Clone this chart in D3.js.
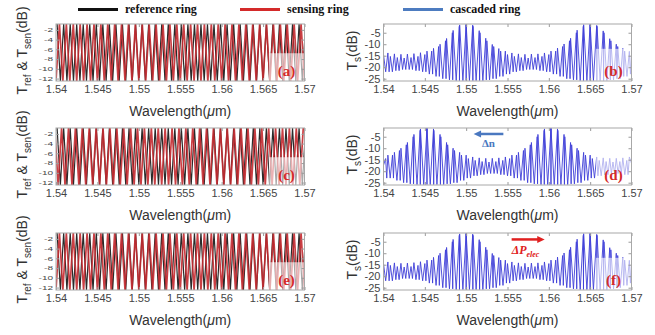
<!DOCTYPE html>
<html lang="en">
<head>
<meta charset="UTF-8" />
<title>Vernier cascaded ring spectra</title>
<style>
    body { margin: 0; background: #fff; }
    svg { display: block; }
    .tick text { font: 11px "Liberation Sans", Arial, sans-serif; fill: #444; }
    .tick line { stroke: #9a9a9a; }
    .frame { fill: none; stroke: #a8a8a8; stroke-width: 1px; }
    .axisLabel { font: 14px "Liberation Sans", Arial, sans-serif; fill: #333; }
    .legendText { font: bold 12px "Liberation Serif", "DejaVu Serif", serif; fill: #111; }
    .panelTag { font: bold 15px "Liberation Serif", "DejaVu Serif", serif; fill: #d42a2a; }
    .ringRef { fill: none; stroke: #2a2a2a; stroke-width: 1.2px; }
    .ringSen { fill: none; stroke: #c42a30; stroke-width: 1.7px; stroke-opacity: 0.9; }
    .casc { fill: none; stroke: #4040d8; stroke-width: 0.9px; }
    .tagBox { fill: #fff; opacity: 0.6; }
</style>
</head>
<body>
<svg></svg>
<script src="https://cdnjs.cloudflare.com/ajax/libs/d3/7.9.0/d3.min.js"></script>
<script>
const wlTicks = [1.54, 1.545, 1.55, 1.555, 1.56, 1.565, 1.57];
const ringTicks = [-2, -4, -6, -8, -10, -12];
const cascTicks = [-5, -10, -15, -20, -25];

// resonance wavelengths (um)
const refRes = [1.54053, 1.54132, 1.54211, 1.54289, 1.54368, 1.54447, 1.54526, 1.54605, 1.54684, 1.54763,
    1.54842, 1.54921, 1.55000, 1.55079, 1.55158, 1.55237, 1.55316, 1.55395, 1.55474, 1.55553,
    1.55632, 1.55711, 1.55789, 1.55868, 1.55947, 1.56026, 1.56105, 1.56184, 1.56263, 1.56342,
    1.56421, 1.56500, 1.56579, 1.56658, 1.56737, 1.56816, 1.56895, 1.56974];
const senResA = [1.54000, 1.54083, 1.54167, 1.54250, 1.54333, 1.54417, 1.54500, 1.54583, 1.54667, 1.54750,
    1.54833, 1.54917, 1.55000, 1.55083, 1.55167, 1.55250, 1.55333, 1.55417, 1.55500, 1.55583,
    1.55667, 1.55750, 1.55833, 1.55917, 1.56000, 1.56083, 1.56167, 1.56250, 1.56333, 1.56417,
    1.56500, 1.56583, 1.56667, 1.56750, 1.56833, 1.56917, 1.57000];
const senResC = [1.54026, 1.54109, 1.54193, 1.54276, 1.54359, 1.54443, 1.54526, 1.54609, 1.54693, 1.54776,
    1.54859, 1.54943, 1.55026, 1.55109, 1.55193, 1.55276, 1.55359, 1.55443, 1.55526, 1.55609,
    1.55693, 1.55776, 1.55859, 1.55943, 1.56026, 1.56109, 1.56193, 1.56276, 1.56359, 1.56443,
    1.56526, 1.56609, 1.56693, 1.56776, 1.56859, 1.56943];

// single ring through port (dB)
const ringTop = -0.8;
const ringDip = -12.5;

// cascaded output (dB): peak at every reference line, at every sensing line, floor after each reference line
const refPeakB = [-13.8, -14.2, -14.4, -14.3, -14.1, -13.7, -13.0, -11.8, -10.0, -7.5,
    -4.0, -1.6, -1.2, -1.7, -4.1, -7.4, -10.1, -11.9, -13.0, -13.8,
    -14.2, -14.4, -14.3, -14.2, -13.8, -13.0, -11.7, -9.9, -7.4, -3.9,
    -1.5, -1.2, -1.8, -4.2, -7.6, -10.0, -11.8, -13.1];
const senPeakB = [-14.5, -15.3, -15.8, -16.0, -15.8, -15.3, -14.5, -13.0, -11.0, -8.5,
    -5.0, -2.2, -1.6, -2.2, -5.0, -8.5, -11.0, -13.0, -14.5, -15.3,
    -15.8, -16.0, -15.8, -15.3, -14.5, -13.0, -11.0, -8.5, -5.0, -2.2,
    -1.6, -2.2, -5.0, -8.5, -11.0, -13.0, -14.5];
const floorB = [-22, -21.5, -21, -21, -21.5, -22, -23, -24, -25, -25.5,
    -25.8, -25.8, -25.8, -25.8, -25.8, -25.5, -25, -24, -23, -22,
    -21.5, -21, -21, -21.5, -22, -23, -24, -25, -25.5, -25.8,
    -25.8, -25.8, -25.8, -25.8, -25.5, -25, -24, -23];
const refPeakD = [-13.0, -11.8, -10.0, -7.5, -4.0, -1.6, -1.2, -1.6, -4.0, -7.5,
    -10.0, -11.8, -13.0, -13.8, -14.2, -14.4, -14.4, -14.2, -13.8, -13.0,
    -11.8, -10.0, -7.5, -4.0, -1.6, -1.2, -1.6, -4.0, -7.5, -10.0,
    -11.8, -13.0, -13.8, -14.2, -14.4, -14.4, -14.2, -13.8];
const senPeakD = [-14.5, -13.0, -11.0, -8.5, -5.0, -2.2, -1.6, -2.2, -5.0, -8.5,
    -11.0, -13.0, -14.5, -15.3, -15.8, -16.0, -15.8, -15.3, -14.5, -13.0,
    -11.0, -8.5, -5.0, -2.2, -1.6, -2.2, -5.0, -8.5, -11.0, -13.0,
    -14.5, -15.3, -15.8, -16.0, -15.8, -15.3];
const floorD = [-23, -24, -25, -25.5, -25.8, -25.8, -25.8, -25.8, -25.8, -25.5,
    -25, -24, -23, -22, -21.5, -21, -21, -21.5, -22, -23,
    -24, -25, -25.5, -25.8, -25.8, -25.8, -25.8, -25.8, -25.5, -25,
    -24, -23, -22, -21.5, -21, -21, -21.5, -22];

const W = 655, H = 335;
const rowTop = [24, 128, 233];
const frameH = 57;
const svg = d3.select("svg").attr("width", W).attr("height", H);

const xL = d3.scaleLinear().domain([1.54, 1.57]).range([56, 304.5]);
const xR = d3.scaleLinear().domain([1.54, 1.57]).range([383.5, 631.5]);

const panels = [
    { tag: "(a)", row: 0, side: "L", sen: senResA },
    { tag: "(b)", row: 0, side: "R", sen: senResA, refPk: refPeakB, senPk: senPeakB, floor: floorB },
    { tag: "(c)", row: 1, side: "L", sen: senResC },
    { tag: "(d)", row: 1, side: "R", sen: senResC, refPk: refPeakD, senPk: senPeakD, floor: floorD },
    { tag: "(e)", row: 2, side: "L", sen: senResA },
    { tag: "(f)", row: 2, side: "R", sen: senResA, refPk: refPeakB, senPk: senPeakB, floor: floorB },
];

const noText = () => "";

function drawAxes(g, x, y, yTicks, squeeze) {
    const [x0, x1] = x.range();
    const [yb, yt] = y.range();
    g.append("g").attr("transform", `translate(0,${yb})`)
        .call(d3.axisBottom(x).tickValues(wlTicks).tickFormat(String).tickSizeInner(-3).tickSizeOuter(0).tickPadding(4))
        .call((a) => a.select(".domain").remove());
    g.append("g").attr("transform", `translate(0,${yt})`)
        .call(d3.axisTop(x).tickValues(wlTicks).tickFormat(noText).tickSizeInner(-3).tickSizeOuter(0))
        .call((a) => a.select(".domain").remove());
    const ya = g.append("g").attr("transform", `translate(${x0},0)`)
        .call(d3.axisLeft(y).tickValues(yTicks).tickFormat(String).tickSizeInner(-3).tickSizeOuter(0).tickPadding(3))
        .call((a) => a.select(".domain").remove());
    if (squeeze) ya.selectAll("text").attr("transform", "scale(1,0.6)").style("font-size", "10px");
    g.append("g").attr("transform", `translate(${x1},0)`)
        .call(d3.axisRight(y).tickValues(yTicks).tickFormat(noText).tickSizeInner(-3).tickSizeOuter(0))
        .call((a) => a.select(".domain").remove());
    g.append("rect").attr("class", "frame")
        .attr("x", x0).attr("y", yt).attr("width", x1 - x0).attr("height", yb - yt);
}

// through port: top between dips, bottom at each resonance
const zigzag = (dips) => {
    const pts = [];
    dips.forEach((d, i) => {
        const prev = i > 0 ? dips[i - 1] : d - (dips[1] - dips[0]);
        pts.push([(prev + d) / 2, ringTop]);
        pts.push([d, ringDip]);
    });
    const n = dips.length;
    pts.push([dips[n - 1] + (dips[n - 1] - dips[n - 2]) / 2, ringTop]);
    return pts;
};

// cascaded output: peaks from both combs, floor between them
const cascade = (p) => {
    const peaks = refRes.map((w, i) => [w, p.refPk[i]])
        .concat(p.sen.map((w, i) => [w, p.senPk[i]]))
        .sort((a, b) => a[0] - b[0]);
    const pick = (w) => p.floor[Math.max(0, Math.min(p.floor.length - 1, d3.bisectRight(refRes, w) - 1))];
    const pts = [[1.5395, p.floor[0]]];
    peaks.forEach((pk, i) => {
        if (i > 0) {
            const mid = (peaks[i - 1][0] + pk[0]) / 2;
            pts.push([mid, pick(mid)]);
        }
        pts.push(pk);
    });
    pts.push([1.5705, p.floor[p.floor.length - 1]]);
    return pts;
};

panels.forEach((p, idx) => {
    const top = rowTop[p.row];
    const left = p.side === "L";
    const x = left ? xL : xR;
    const y = d3.scaleLinear().domain(left ? [-12.5, -0.8] : [-26, -1.2]).range([top + frameH, top]);
    const g = svg.append("g");
    const [x0, x1] = x.range();

    const clipId = "clip" + idx;
    svg.append("clipPath").attr("id", clipId).append("rect")
        .attr("x", x0).attr("y", top).attr("width", x1 - x0).attr("height", frameH);
    const plot = g.append("g").attr("clip-path", `url(#${clipId})`);
    const line = d3.line().x((d) => x(d[0])).y((d) => y(d[1]));

    if (left) {
        plot.append("path").attr("class", "ringRef").attr("d", line(zigzag(refRes)));
        plot.append("path").attr("class", "ringSen").attr("d", line(zigzag(p.sen)));
    } else {
        plot.append("path").attr("class", "casc").attr("d", line(cascade(p)));
    }

    // label box
    const boxTop = left ? -6.8 : -12;
    g.append("rect").attr("class", "tagBox")
        .attr("x", x(1.5657)).attr("y", y(boxTop))
        .attr("width", x1 - x(1.5657)).attr("height", top + frameH - y(boxTop));
    g.append("text").attr("class", "panelTag")
        .attr("x", x1 - 18).attr("y", top + 52).attr("text-anchor", "middle").text(p.tag);

    drawAxes(g, x, y, left ? ringTicks : cascTicks, left);

    g.append("text").attr("class", "axisLabel")
        .attr("x", (x0 + x1) / 2).attr("y", top + frameH + 35).attr("text-anchor", "middle")
        .call((t) => {
            t.append("tspan").text("Wavelength(");
            t.append("tspan").style("font-style", "italic").text("\u03bc");
            t.append("tspan").text("m)");
        });

    const yl = g.append("text").attr("class", "axisLabel").attr("text-anchor", "middle")
        .attr("transform", `translate(${left ? 27 : 357},${top + frameH / 2 - 2}) rotate(-90)`);
    if (left) {
        yl.append("tspan").text("T");
        yl.append("tspan").attr("dy", 4).style("font-size", "10px").text("ref");
        yl.append("tspan").attr("dy", -4).text(" & T");
        yl.append("tspan").attr("dy", 4).style("font-size", "10px").text("sen");
        yl.append("tspan").attr("dy", -4).text("(dB)");
    } else {
        yl.append("tspan").text("T");
        yl.append("tspan").attr("dy", 4).style("font-size", "10px").text("s");
        yl.append("tspan").attr("dy", -4).text("(dB)");
    }

    if (p.tag === "(d)") {
        const ay = y(-3.8);
        g.append("line").attr("x1", x(1.5545)).attr("x2", x(1.5515)).attr("y1", ay).attr("y2", ay)
            .attr("stroke", "#4a78c0").attr("stroke-width", 2.5);
        g.append("path").attr("fill", "#4a78c0")
            .attr("d", `M${x(1.5509)},${ay}L${x(1.5518)},${ay - 3.5}L${x(1.5518)},${ay + 3.5}Z`);
        g.append("text").attr("x", x(1.5527)).attr("y", y(-9.5)).attr("text-anchor", "middle")
            .style("font", "bold 11px 'Liberation Serif', serif").attr("fill", "#4a78c0").text("\u0394n");
    }
    if (p.tag === "(f)") {
        const ay = y(-4);
        g.append("line").attr("x1", x(1.5555)).attr("x2", x(1.5588)).attr("y1", ay).attr("y2", ay)
            .attr("stroke", "#e02020").attr("stroke-width", 2.5);
        g.append("path").attr("fill", "#e02020")
            .attr("d", `M${x(1.5595)},${ay}L${x(1.5586)},${ay - 3.5}L${x(1.5586)},${ay + 3.5}Z`);
        const t = g.append("text").attr("x", x(1.5555)).attr("y", y(-10.2))
            .style("font", "bold italic 12px 'Liberation Serif', serif").attr("fill", "#e02020");
        t.append("tspan").text("\u0394P");
        t.append("tspan").attr("dy", 3).style("font-size", "8px").text("elec");
    }
});

// legend
const legend = [
    { label: "reference ring", color: "#111", x: 78 },
    { label: "sensing ring", color: "#d42a2a", x: 240 },
    { label: "cascaded ring", color: "#4d7cc0", x: 403 },
];
const lg = svg.append("g").selectAll("g").data(legend).join("g");
lg.append("line").attr("x1", (d) => d.x).attr("x2", (d) => d.x + 40).attr("y1", 9.5).attr("y2", 9.5)
    .attr("stroke", (d) => d.color).attr("stroke-width", 3);
lg.append("text").attr("class", "legendText").attr("x", (d) => d.x + 47).attr("y", 13).text((d) => d.label);
</script>
</body>
</html>
